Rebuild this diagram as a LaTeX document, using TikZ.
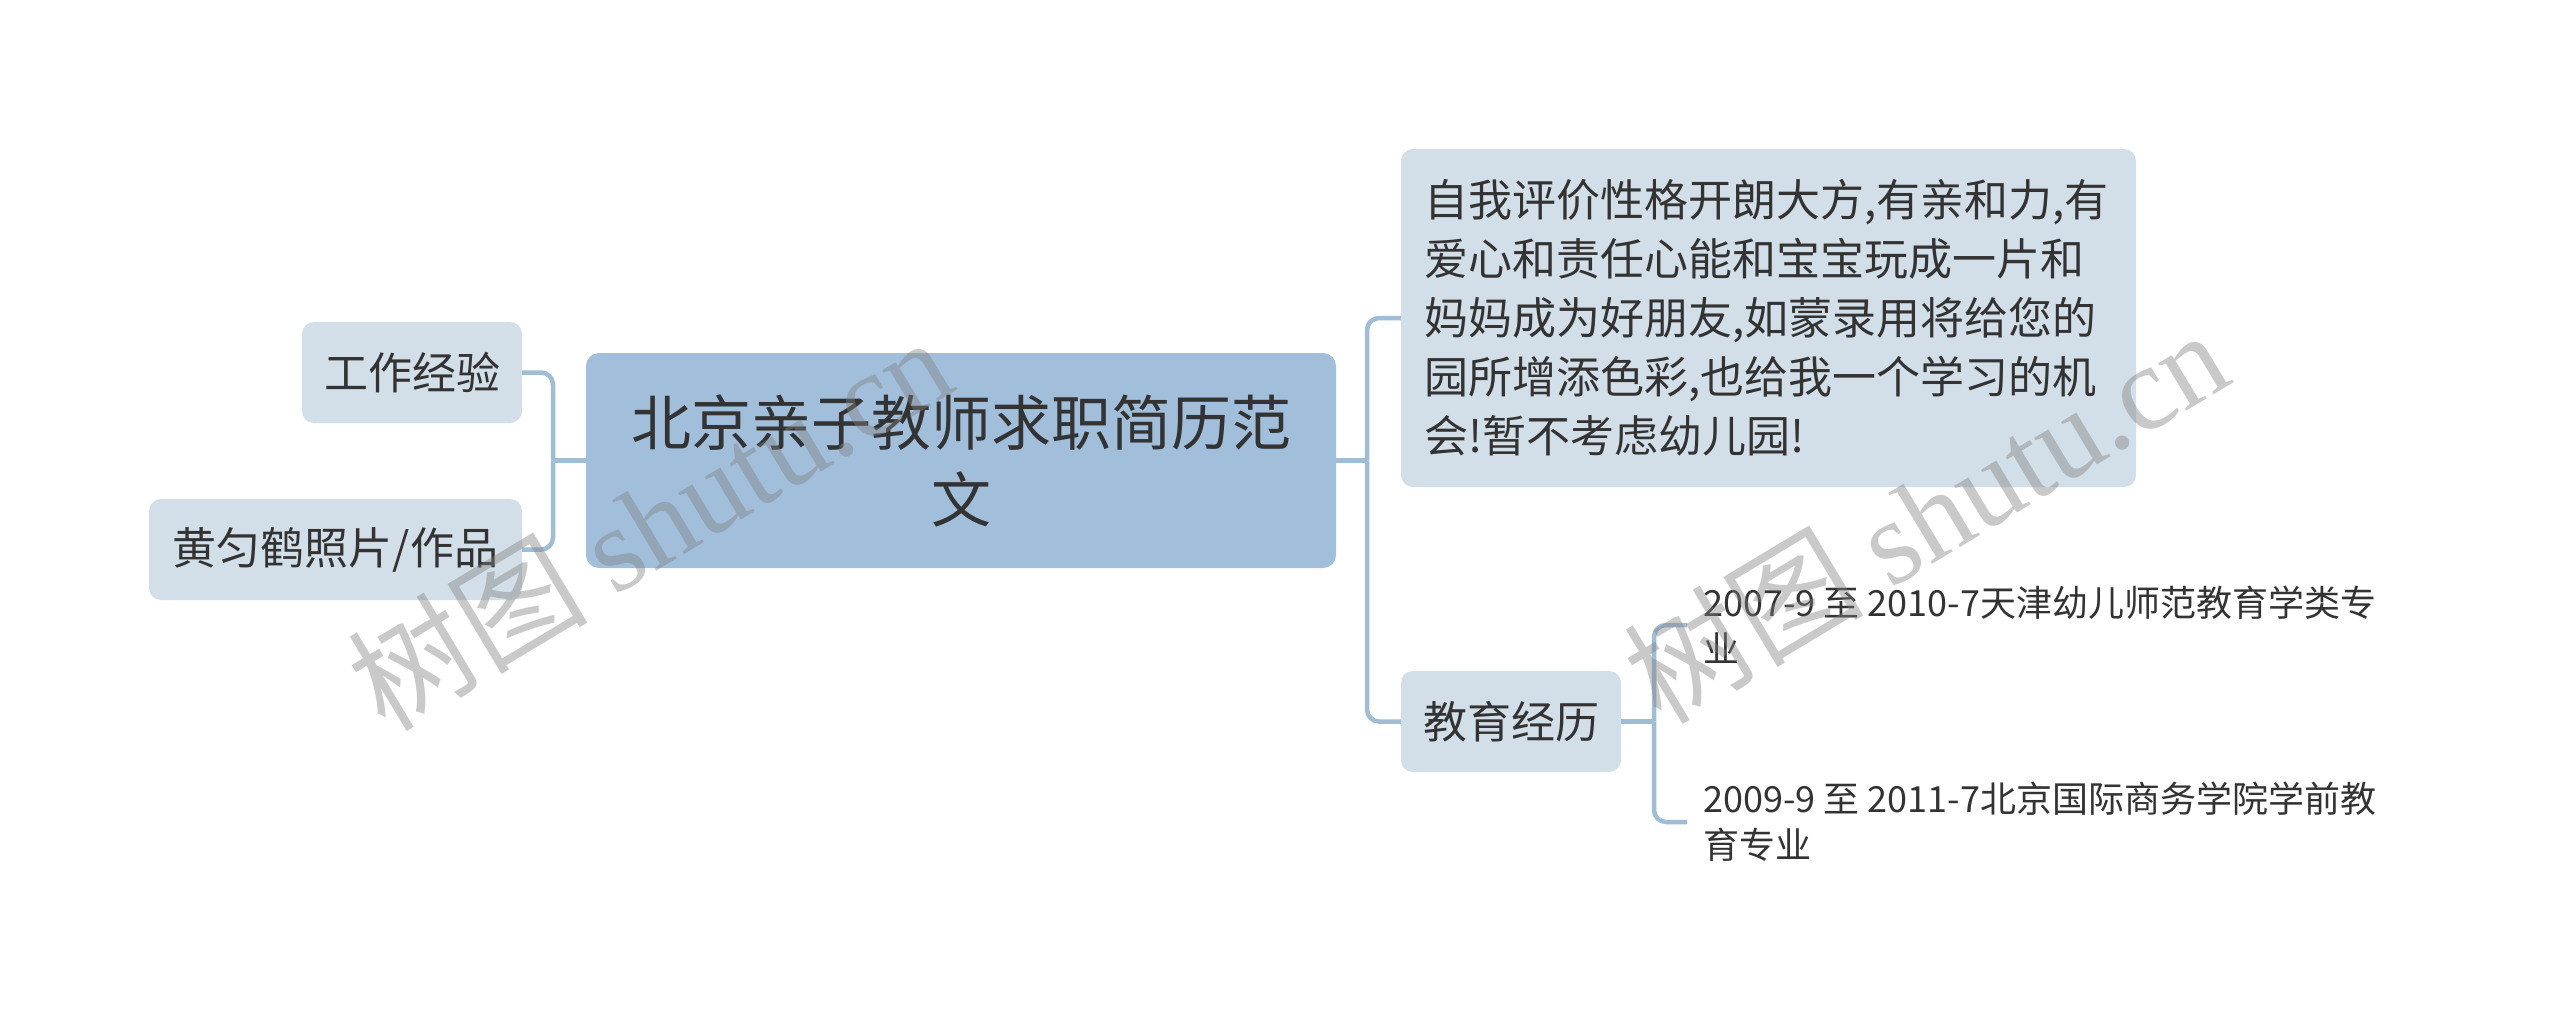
\documentclass[tikz,border=0pt]{standalone}
\usepackage{fontspec}
\setmainfont{Noto Sans CJK SC}
\newfontfamily\wmlatin{Liberation Serif}
\definecolor{mainfill}{HTML}{A1BFDA}
\definecolor{subfill}{HTML}{D3DFE8}
\definecolor{linec}{HTML}{A0BDD6}
\definecolor{txt}{HTML}{333333}
\definecolor{wmc}{HTML}{808080}
\tikzset{
  mainbox/.style={fill=mainfill, rounded corners=13pt, text=txt, font=\fontsize{60}{77}\selectfont, align=center, minimum width=750pt, minimum height=215pt, inner sep=0pt},
  subbox/.style={fill=subfill, rounded corners=12pt, text=txt, font=\fontsize{44}{59}\selectfont, inner sep=0pt, minimum height=101pt},
  leaf/.style={text=txt, font=\fontsize{36}{46}\selectfont, align=left, inner sep=0pt, anchor=west},
  conn/.style={draw=linec, line width=4.5pt, rounded corners=12pt},
  wm/.style={text=wmc, text opacity=0.42, font=\fontsize{120}{130}\selectfont, inner sep=0pt, rotate=31}
}
\begin{document}
\begin{tikzpicture}[x=1pt,y=-1pt]
\useasboundingbox (0,0) rectangle (2560,1031);
\fill[white] (0,0) rectangle (2560,1031);
\node[mainbox] (root) at (961,460.5) {北京亲子教师求职简历范\\文};
\node[subbox, minimum width=220pt] (work) at (412,372.5) {工作经验};
\node[subbox, minimum width=373pt] (photo) at (335.5,549.5) {黄匀鹤照片/作品};
\node[subbox, minimum width=735pt, minimum height=338pt, text width=689pt, align=left] (self) at (1768.5,318) {自我评价性格开朗大方,有亲和力,有\\爱心和责任心能和宝宝玩成一片和\\妈妈成为好朋友,如蒙录用将给您的\\园所增添色彩,也给我一个学习的机\\会!暂不考虑幼儿园!};
\node[subbox, minimum width=220pt] (edu) at (1511,721.5) {教育经历};
\node[leaf] (l1) at (1703,625) {2007-9 至 2010-7天津幼儿师范教育学类专\\业};
\node[leaf] (l2) at (1703,822) {2009-9 至 2011-7北京国际商务学院学前教\\育专业};
\coordinate (sL) at (553,0);
\coordinate (sR) at (1367,0);
\coordinate (sE) at (1654,0);
\draw[conn] (root.west) -- (sL |- root.west);
\draw[conn] (sL |- root.west) |- (work.east);
\draw[conn] (sL |- root.west) |- (photo.east);
\draw[conn] (root.east) -- (sR |- root.east);
\draw[conn] (sR |- root.east) |- (self.west);
\draw[conn] (sR |- root.east) |- (edu.west);
\draw[conn] (edu.east) -- (sE |- edu.east);
\draw[conn] (sE |- edu.east) |- ([xshift=-16pt]l1.west);
\draw[conn] (sE |- edu.east) |- ([xshift=-16pt]l2.west);
\node[wm] (wm1) at (649,522) {树图 {\wmlatin shutu.cn}};
\node[wm] (wm2) at (1925,515) {树图 {\wmlatin shutu.cn}};
\end{tikzpicture}
\end{document}
